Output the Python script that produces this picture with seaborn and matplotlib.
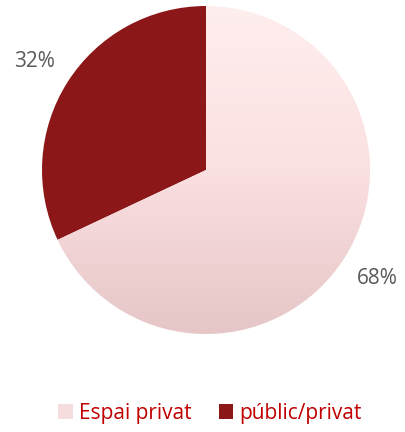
import numpy as np
import seaborn as sns
import matplotlib.pyplot as plt
from matplotlib.colors import LinearSegmentedColormap
from matplotlib.patches import Patch

# Data
labels = ["Espai privat", "públic/privat"]
shares = [68, 32]
pct_labels = ["68%", "32%"]

sns.set_theme(style="white")
plt.rcParams["font.family"] = ["Open Sans", "DejaVu Sans"]

fig = plt.figure(figsize=(4.05, 4.32), dpi=100)
ax = fig.add_axes([42 / 405, 98 / 432, 328 / 405, 328 / 432])

light_top = "#ffeeee"
light_bot = "#e6c6c7"
dark = "#8b1719"

wedges, _ = ax.pie(shares, colors=[light_bot, dark], startangle=90, counterclock=False,
                   radius=1, wedgeprops=dict(linewidth=0))

# vertical gradient on the light slice
cmap = LinearSegmentedColormap.from_list("pinkgrad", [light_bot, "#fbe0e1", light_top])
grad = np.linspace(0, 1, 256).reshape(-1, 1)
img = ax.imshow(grad, cmap=cmap, extent=[-1, 1, -1, 1], origin="lower", aspect="auto", zorder=1)
img.set_clip_path(wedges[0])
wedges[0].set_facecolor("none")
wedges[0].set_zorder(2)

# percentage labels outside the slices
start = 90
for w, txt in zip(shares, pct_labels):
    mid = np.deg2rad(start - w * 3.6 / 2)
    ax.text(1.24 * np.cos(mid), 1.24 * np.sin(mid), txt, ha="center", va="center",
            fontsize=15, color="#595959")
    start -= w * 3.6

ax.set_xlim(-1, 1)
ax.set_ylim(-1, 1)
ax.set_aspect("equal")
ax.axis("off")

handles = [Patch(facecolor="#f5dcdd", edgecolor="none"), Patch(facecolor=dark, edgecolor="none")]
leg = fig.legend(handles, labels, loc="center", bbox_to_anchor=(210 / 405, 1 - 413 / 432), ncol=2,
                 frameon=False, fontsize=15, handlelength=0.7, handleheight=0.7,
                 handletextpad=0.3, columnspacing=1.3)
for t in leg.get_texts():
    t.set_color("#c00000")

fig.savefig("out.png", dpi=100)
